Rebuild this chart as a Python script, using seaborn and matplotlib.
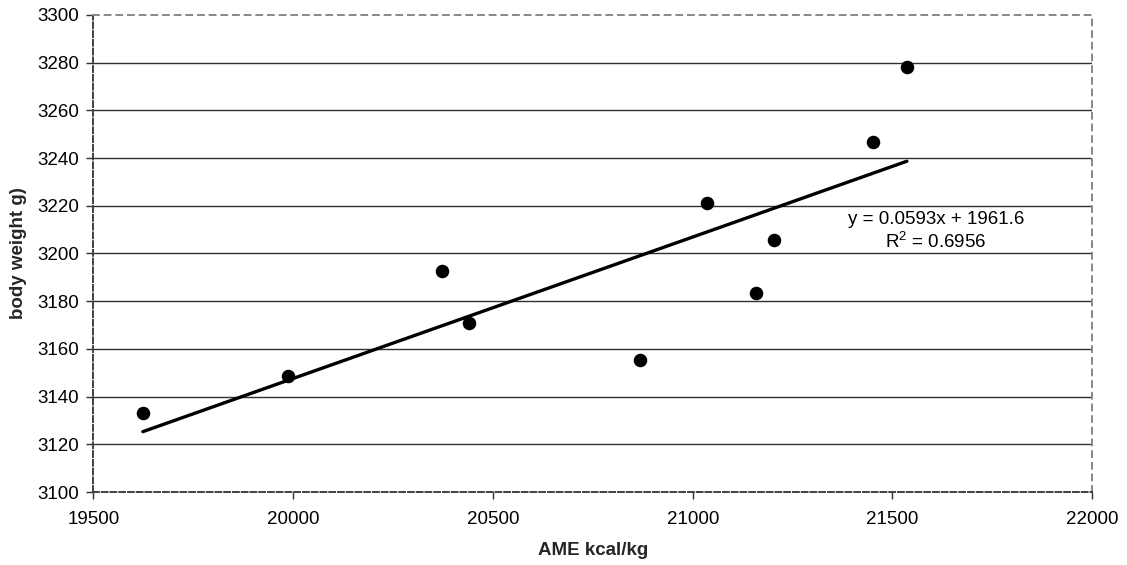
import numpy as np
import pandas as pd
import matplotlib
matplotlib.use("Agg")
import matplotlib.pyplot as plt
import seaborn as sns

# Apparent metabolisable energy of the diet vs. final body weight
ame_kcal = [19624, 19988, 20372, 20440, 20868, 21036, 21159, 21204, 21451, 21536]
body_weight = [3133.0, 3148.8, 3192.8, 3170.7, 3155.3, 3221.3, 3183.4, 3205.5, 3246.8, 3278.2]

# Linear trend line as stated in the annotation
slope = 0.0593
intercept = 1961.6
r_squared = 0.6956

x_ticks = [19500, 20000, 20500, 21000, 21500, 22000]
y_ticks = [3100, 3120, 3140, 3160, 3180, 3200, 3220, 3240, 3260, 3280, 3300]

sns.set_theme(style="white")
plt.rcParams["font.family"] = ["Liberation Sans", "DejaVu Sans"]
plt.rcParams["mathtext.default"] = "regular"

df = pd.DataFrame({"AME": ame_kcal, "BW": body_weight})
x_fit = np.array([min(ame_kcal), max(ame_kcal)])
trend = pd.DataFrame({"AME": x_fit, "BW": slope * x_fit + intercept})

fig = plt.figure(figsize=(11.27, 5.65), dpi=100)
ax = fig.add_axes([0.0828, 0.1292, 0.8864, 0.8443])

# horizontal gridlines
for yv in y_ticks[1:-1]:
    ax.axhline(yv, color="#303030", lw=1.0, zorder=1)

sns.lineplot(data=trend, x="AME", y="BW", ax=ax, color="black", lw=2.4, zorder=2)
sns.scatterplot(data=df, x="AME", y="BW", ax=ax, color="black", s=95,
                edgecolor="black", linewidth=0, zorder=3)

ax.set_xlim(x_ticks[0], x_ticks[-1])
ax.set_ylim(y_ticks[0], y_ticks[-1])
ax.set_xticks(x_ticks)
ax.set_yticks(y_ticks)
ax.set_xticklabels([str(v) for v in x_ticks])
ax.set_yticklabels([str(v) for v in y_ticks])
ax.tick_params(axis="both", which="major", direction="out", length=5, width=1.0,
               color="#303030", labelsize=13.5, labelcolor="black")
ax.tick_params(axis="y", pad=5, left=True)
ax.tick_params(axis="x", pad=9, bottom=True)

for side in ["top", "right"]:
    ax.spines[side].set_color("#888888")
    ax.spines[side].set_linestyle((0, (3, 3)))
    ax.spines[side].set_linewidth(1.4)
for side in ["left", "bottom"]:
    ax.spines[side].set_color("#404040")
    ax.spines[side].set_linestyle((0, (3, 1.5)))
    ax.spines[side].set_linewidth(1.4)

ax.set_xlabel("AME kcal/kg", fontsize=13.5, fontweight="bold")
ax.set_ylabel("body weight g)", fontsize=13.5, fontweight="bold")
ax.xaxis.set_label_coords(0.5, -0.105)
ax.yaxis.set_label_coords(-0.066, 0.5)

ax.text(21609, 3209.4, f"y = {slope}x + {intercept}\nR$^{{2}}$ = {r_squared}",
        ha="center", va="center", fontsize=13.5, color="black",
        linespacing=1.25, zorder=4)

fig.savefig("out.png", dpi=100, facecolor="white")
